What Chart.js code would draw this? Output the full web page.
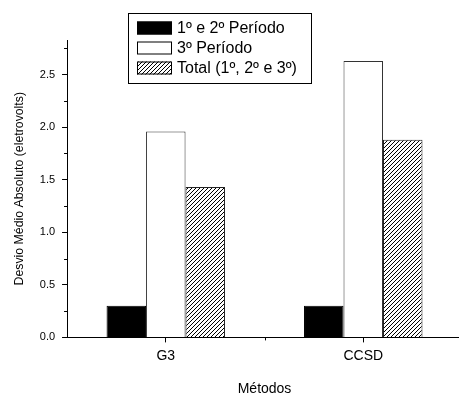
<!DOCTYPE html>
<html>
<head>
<meta charset="utf-8">
<script src="https://cdn.jsdelivr.net/npm/chart.js@4/dist/chart.umd.min.js"></script>
<style>
  html, body { margin: 0; padding: 0; background: #fff; overflow: hidden; }
  #wrap { width: 462px; height: 394px; }
</style>
</head>
<body>
<div id="wrap"><canvas id="chart"></canvas></div>
<script>
const categories = ['G3', 'CCSD'];
const seriesLabels = ['1º e 2º Período', '3º Período', 'Total (1º, 2º e 3º)'];
const periodo12 = [0.30, 0.30];
const periodo3 = [1.96, 2.63];
const total = [1.43, 1.88];
const yMin = 0;
const yMax = 2.83;
const yStep = 0.25;

const FONT = 'Liberation Sans, Arial, sans-serif';

// diagonal hatch (/) used by the "Total" series
function makeHatch() {
    const c = document.createElement('canvas');
    c.width = 4;
    c.height = 4;
    const g = c.getContext('2d');
    g.fillStyle = '#fff';
    g.fillRect(0, 0, 4, 4);
    g.strokeStyle = '#000';
    g.lineWidth = 1;
    g.beginPath();
    g.moveTo(-1, 5); g.lineTo(5, -1);
    g.moveTo(-1, 1); g.lineTo(1, -1);
    g.moveTo(3, 5); g.lineTo(5, 3);
    g.stroke();
    return g.createPattern(c, 'repeat');
}

const ctx = document.getElementById('chart').getContext('2d');
const hatch = makeHatch();

// legend box drawn inside the plot, with a border
const boxLegend = {
    id: 'boxLegend',
    afterDraw(chart) {
        const c = chart.ctx;
        c.save();
        c.fillStyle = '#fff';
        c.fillRect(128, 13, 184, 70);
        c.strokeStyle = '#000';
        c.lineWidth = 1;
        c.strokeRect(128.5, 13.5, 183, 70);
        chart.data.datasets.forEach((ds, i) => {
            const y = 28 + i * 20;
            c.fillStyle = ds.backgroundColor;
            c.fillRect(137, y - 6.5, 35, 13);
            c.strokeStyle = '#000';
            c.strokeRect(137.5, y - 6, 34, 12);
            c.fillStyle = '#000';
            c.font = '16px ' + FONT;
            c.textBaseline = 'middle';
            c.fillText(ds.label, 177, y + 1);
        });
        c.restore();
    }
};

// short minor ticks on both axes
const minorTicks = {
    id: 'minorTicks',
    afterDraw(chart) {
        const c = chart.ctx;
        const y = chart.scales.y;
        const x = chart.scales.x;
        c.save();
        c.strokeStyle = '#000';
        c.lineWidth = 1;
        c.beginPath();
        for (let v = yMin + yStep; v < yMax; v += 2 * yStep) {
            const py = Math.round(y.getPixelForValue(v)) + 0.5;
            c.moveTo(x.left, py);
            c.lineTo(x.left - 3, py);
        }
        for (let i = 0; i < categories.length - 1; i++) {
            const px = Math.round(x.getPixelForValue(i + 0.5)) + 0.5;
            c.moveTo(px, y.bottom);
            c.lineTo(px, y.bottom + 3);
        }
        c.stroke();
        c.restore();
    }
};

new Chart(ctx, {
    type: 'bar',
    data: {
        labels: categories,
        datasets: [
            { label: seriesLabels[0], data: periodo12, backgroundColor: '#000', borderColor: '#000', borderWidth: 1 },
            { label: seriesLabels[1], data: periodo3, backgroundColor: '#fff', borderColor: '#333', borderWidth: 1 },
            { label: seriesLabels[2], data: total, backgroundColor: hatch, borderColor: '#222', borderWidth: 1 }
        ]
    },
    options: {
        responsive: true,
        maintainAspectRatio: false,
        animation: false,
        categoryPercentage: 0.6,
        barPercentage: 1.0,
        layout: { padding: { left: 12, right: 0, top: 40, bottom: -4 } },
        plugins: {
            legend: { display: false },
            tooltip: { enabled: false }
        },
        scales: {
            x: {
                grid: { display: true, drawOnChartArea: false, tickLength: 5, color: '#000', offset: false },
                border: { color: '#000', width: 1 },
                ticks: { color: '#000', font: { family: FONT, size: 14 }, padding: 5.5 },
                title: { display: true, text: 'Métodos', color: '#000', font: { family: FONT, size: 14 }, padding: { top: 11, bottom: 0 } }
            },
            y: {
                min: yMin,
                max: yMax,
                grid: {
                    drawOnChartArea: false,
                    tickLength: 5,
                    tickColor: c => (Math.abs(c.tick.value / 0.5 - Math.round(c.tick.value / 0.5)) < 1e-6 ? '#000' : 'rgba(0,0,0,0)')
                },
                border: { color: '#000', width: 1 },
                ticks: {
                    stepSize: yStep,
                    includeBounds: false,
                    color: '#000',
                    font: { family: FONT, size: 11 },
                    padding: 7,
                    callback: v => (Math.abs(v / 0.5 - Math.round(v / 0.5)) < 1e-6 ? v.toFixed(1) : '')
                },
                title: { display: true, text: 'Desvio Médio Absoluto (eletrovolts)', color: '#000', font: { family: FONT, size: 12.3 }, padding: { top: 0, bottom: 6 } }
            }
        }
    },
    plugins: [minorTicks, boxLegend]
});
</script>
</body>
</html>
